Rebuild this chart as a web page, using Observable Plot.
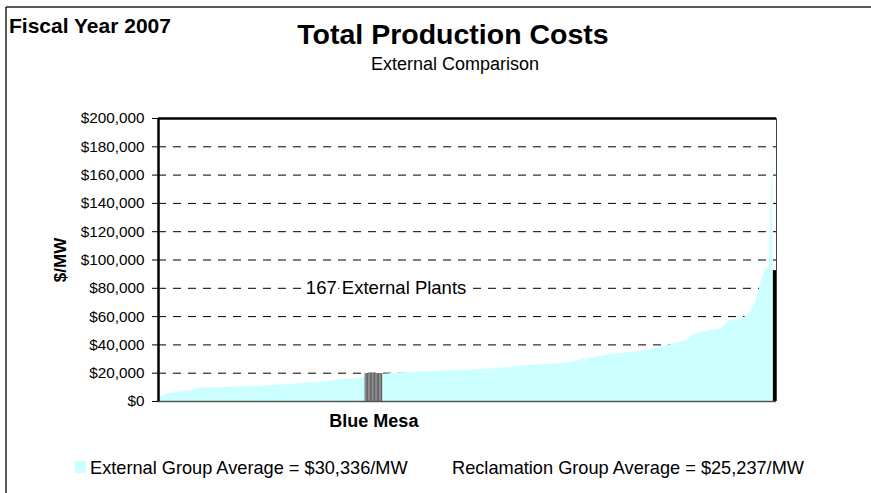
<!DOCTYPE html>
<html>
<head>
<meta charset="utf-8">
<script src="https://cdn.jsdelivr.net/npm/d3@7"></script>
<script src="https://cdn.jsdelivr.net/npm/@observablehq/plot@0.6"></script>
<style>
  html, body { margin: 0; padding: 0; background: #fff; }
  #chart { position: relative; width: 871px; height: 493px; }
  svg { font-family: "Liberation Sans", Arial, sans-serif; }
</style>
</head>
<body>
<div id="chart"></div>
<script>
// ---- Data ----
const plants = [
  2000, 4000, 5000, 5600, 6000, 6400, 6800, 7100, 7400, 7600,
  8800, 9200, 9400, 9500, 9600, 9700, 9800, 9900, 10000, 10100,
  10200, 10300, 10400, 10500, 10500, 10600, 10700, 10800, 10900, 11000,
  11200, 11400, 11500, 11700, 11800, 12000, 12100, 12300, 12500, 12700,
  12900, 13100, 13300, 13500, 13700, 13900, 14200, 14600, 14900, 15200,
  15500, 15700, 15900, 16100, 16400, 16700, 16900, 17200, 17500, 17800,
  18800, 19200, 19500, 19700, 19900, 20100, 20300, 20400, 20500, 20700,
  20800, 20900, 21000, 21100, 21200, 21300, 21400, 21500, 21600, 21700,
  21800, 21900, 22000, 22100, 22200, 22300, 22400, 22500, 22600, 22800,
  23000, 23300, 23500, 23700, 23900, 24100, 24400, 24700, 25000, 25200,
  25400, 25600, 25800, 25900, 26000, 26100, 26200, 26400, 26500, 26700,
  27000, 27500, 28000, 28600, 29200, 29800, 30300, 30800, 31300, 31800,
  32200, 32600, 33000, 33400, 33700, 34000, 34200, 34400, 34600, 34900,
  35300, 35700, 36100, 36600, 37200, 37900, 38600, 39300, 40000, 40600,
  41200, 41800, 42400, 43500, 46000, 47500, 48500, 49000, 49500, 50000,
  50300, 50700, 51500, 53500, 56500, 57500, 58200, 58600, 59000, 60500,
  63000, 68000, 75000, 86000, 93000, 95000, 179000
];
const blueMesaName = "Blue Mesa";
const blueMesaIndex = 58;
const blueMesaValue = 19800;
const rightBarValue = 92500;
const yTicks = [0, 20000, 40000, 60000, 80000, 100000, 120000, 140000, 160000, 180000, 200000];
const gridTicks = [20000, 40000, 60000, 80000, 100000, 120000, 140000, 160000, 180000];
const plantsLabel = "167 External Plants";
const titleText = "Total Production Costs";
const subtitleText = "External Comparison";
const yearText = "Fiscal Year 2007";
const yLabel = "$/MW";
const legendExternal = "External Group Average = $30,336/MW";
const legendReclamation = "Reclamation Group Average = $25,237/MW";

const idx = plants.map((d, i) => i);
const N = plants.length;

const plot = Plot.plot({
  width: 871,
  height: 493,
  marginLeft: 158,
  marginRight: 95,
  marginTop: 118,
  marginBottom: 92,
  x: { domain: [0, N], axis: null },
  y: { domain: [0, 200000], axis: null },
  style: { fontFamily: '"Liberation Sans", Arial, sans-serif', background: "white" },
  marks: [
    Plot.ruleY(gridTicks, { stroke: "#000", strokeWidth: 1, strokeDasharray: "8,7" }),
    Plot.areaY(idx, { x: i => i, y: i => plants[i], fill: "#ccffff", curve: "linear" }),
    Plot.rect([blueMesaValue], {
      x1: () => blueMesaIndex - 2.2, x2: () => blueMesaIndex + 2.6,
      y1: () => 0, y2: d => d, fill: "url(#bmStripes)"
    }),
    Plot.rect([rightBarValue], {
      x1: () => N - 0.85, x2: () => N, y1: () => 0, y2: d => d, fill: "#000"
    }),
    Plot.text([plantsLabel], {
      x: () => 61.5, y: () => 80000, text: d => d, fontSize: 18.5, fill: "#000",
      stroke: "white", strokeWidth: 8, textAnchor: "middle"
    }),
    Plot.text([blueMesaName], {
      x: () => blueMesaIndex + 0.2, frameAnchor: "bottom", dy: 25, text: d => d,
      fontSize: 18, fontWeight: "bold", fill: "#000", textAnchor: "middle"
    }),
    Plot.ruleY([0], { stroke: "#555", strokeWidth: 1.5 }),
    Plot.ruleX([N], { stroke: "#444", strokeWidth: 1 }),
    Plot.ruleY([200000], { stroke: "#000", strokeWidth: 2.5 }),
    Plot.ruleX([0], { stroke: "#000", strokeWidth: 2.5 }),
    Plot.axisY({
      ticks: yTicks, tickFormat: d3.format("$,"), tickSize: 6, tickPadding: 8,
      fontSize: 15.3, label: null, stroke: "#000"
    })
  ]
});

const svg = d3.select(plot);
// striped gradient pattern for Blue Mesa bar
const defs = svg.insert("defs", ":first-child");
const grad = defs.append("linearGradient").attr("id", "bmGrad").attr("x1", "0").attr("x2", "1").attr("y1", "0").attr("y2", "0");
grad.append("stop").attr("offset", "0%").attr("stop-color", "#4d4d4d");
grad.append("stop").attr("offset", "45%").attr("stop-color", "#a0a0a0");
grad.append("stop").attr("offset", "100%").attr("stop-color", "#5a5a5a");
const pat = defs.append("pattern").attr("id", "bmStripes").attr("patternUnits", "userSpaceOnUse")
  .attr("width", 3.6).attr("height", 10);
pat.append("rect").attr("width", 3.6).attr("height", 10).attr("fill", "url(#bmGrad)");

// outer frame (top and left)
svg.append("line").attr("x1", 6).attr("x2", 871).attr("y1", 7).attr("y2", 7).attr("stroke", "#222").attr("stroke-width", 1.5);
svg.append("line").attr("x1", 6).attr("x2", 6).attr("y1", 7).attr("y2", 493).attr("stroke", "#222").attr("stroke-width", 1.5);

const txt = (x, y, s, size, weight, anchor) =>
  svg.append("text").attr("x", x).attr("y", y).attr("font-size", size)
    .attr("font-weight", weight).attr("text-anchor", anchor).attr("fill", "#000").text(s);

txt(9, 33, yearText, 21, "bold", "start");
txt(453, 44, titleText, 28.5, "bold", "middle");
txt(455, 70, subtitleText, 18, "normal", "middle");
svg.append("text").attr("transform", "translate(66,260) rotate(-90)")
  .attr("font-size", 17).attr("font-weight", "bold").attr("text-anchor", "middle").text(yLabel);

// legend
svg.append("rect").attr("x", 75).attr("y", 461).attr("width", 11).attr("height", 12).attr("fill", "#ccffff");
txt(90, 474, legendExternal, 18.2, "normal", "start");
txt(452, 474, legendReclamation, 18.2, "normal", "start");

document.getElementById("chart").appendChild(plot);
</script>
</body>
</html>
